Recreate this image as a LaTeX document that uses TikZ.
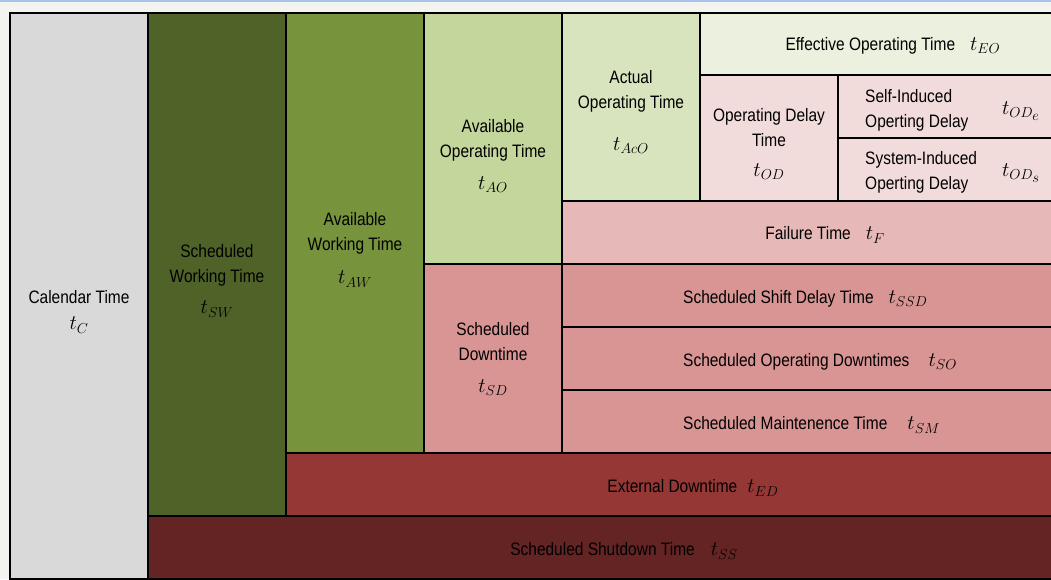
\documentclass[tikz,border=0pt]{standalone}
\usepackage{fontspec}
\setmainfont[FakeStretch=0.86]{Liberation Sans}

\definecolor{pagebg}{HTML}{F3F3EF}
\definecolor{topline}{HTML}{A9C4EB}
\definecolor{calgray}{HTML}{D9D9D9}
\definecolor{swgreen}{HTML}{4F6228}
\definecolor{awgreen}{HTML}{77933C}
\definecolor{aogreen}{HTML}{C3D69B}
\definecolor{acogreen}{HTML}{D7E4BD}
\definecolor{eogreen}{HTML}{EBF1DE}
\definecolor{odpink}{HTML}{F2DCDB}
\definecolor{fpink}{HTML}{E6B9B8}
\definecolor{sdpink}{HTML}{D99594}
\definecolor{edred}{HTML}{953735}
\definecolor{ssred}{HTML}{632423}

\tikzset{
  box/.style={draw=black, line width=2.2pt},
  lbl/.style={align=center, font=\fontsize{18}{25}\selectfont, text=black, inner sep=0pt},
}
\newcommand{\tsym}[1]{{\fontsize{22}{25}\selectfont$t_{#1}$}}

\begin{document}
\begin{tikzpicture}[x=1pt,y=-1pt]
        \useasboundingbox (0,0) rectangle (1051,579);
        \fill[pagebg] (0,0) rectangle (1051,579);
        \fill[topline] (0,0) rectangle (1051,2);

        \begin{scope}
        \clip (0,2) rectangle (1051,579);
        % columns on the left
        \draw[box,fill=calgray] (10,13) rectangle (148,579);
        \draw[box,fill=swgreen] (148,13) rectangle (286,516);
        \draw[box,fill=ssred] (148,516) rectangle (1070,579);
        \draw[box,fill=awgreen] (286,13) rectangle (424,453);
        \draw[box,fill=edred] (286,453) rectangle (1070,516);
        \draw[box,fill=aogreen] (424,13) rectangle (562,264);
        \draw[box,fill=sdpink] (424,264) rectangle (562,453);
        \draw[box,fill=acogreen] (562,13) rectangle (700,201);
        % rows on the right
        \draw[box,fill=fpink] (562,201) rectangle (1070,264);
        \draw[box,fill=sdpink] (562,264) rectangle (1070,327);
        \draw[box,fill=sdpink] (562,327) rectangle (1070,390);
        \draw[box,fill=sdpink] (562,390) rectangle (1070,453);
        \draw[box,fill=eogreen] (700,13) rectangle (1070,75);
        \draw[box,fill=odpink] (700,75) rectangle (838,201);
        \draw[box,fill=odpink] (838,75) rectangle (1070,138);
        \draw[box,fill=odpink] (838,138) rectangle (1070,201);
        \end{scope}

        % labels
        \node[lbl] (cal) at (79,312) {Calendar Time\\[1pt]\tsym{C}};
        \node[lbl] (sw) at (217,281) {Scheduled\\Working Time\\[6pt]\tsym{SW}};
        \node[lbl] (aw) at (355,250) {Available\\Working Time\\[8pt]\tsym{AW}};
        \node[lbl] (ao) at (493,156) {Available\\Operating Time\\[7pt]\tsym{AO}};
        \node[lbl] (aco) at (631,112) {Actual\\Operating Time\\[17pt]\tsym{AcO}};
        \node[lbl] (od) at (769,144) {Operating Delay\\Time\\[5pt]\tsym{OD}};
        \node[lbl] (sd) at (493,359) {Scheduled\\Downtime\\[7pt]\tsym{SD}};

        \node[lbl,align=left,anchor=west] (odself) at (865,110) {Self-Induced\\Operting Delay};
        \node[lbl] (tode) at (1021,111) {\tsym{OD_{\scriptstyle e}}};
        \node[lbl,align=left,anchor=west] (odsys) at (865,172) {System-Induced\\Operting Delay};
        \node[lbl] (tods) at (1021,173) {\tsym{OD_{\scriptstyle s}}};

        \node[lbl] (eo) at (893,46) {Effective Operating Time\hspace{15pt}\tsym{EO}};
        \node[lbl] (fail) at (825,235) {Failure Time\hspace{15pt}\tsym{F}};
        \node[lbl,anchor=west] (ssd) at (683,299) {Scheduled Shift Delay Time\hspace{15pt}\tsym{SSD}};
        \node[lbl,anchor=west] (so) at (683,362) {Scheduled Operating Downtimes\hspace{19pt}\tsym{SO}};
        \node[lbl,anchor=west] (sm) at (683,425) {Scheduled Maintenence Time\hspace{20pt}\tsym{SM}};
        \node[lbl] (ed) at (693,488) {External Downtime\hspace{10pt}\tsym{ED}};
        \node[lbl] (ss) at (624,551) {Scheduled Shutdown Time\hspace{16pt}\tsym{SS}};
    \end{tikzpicture}
\end{document}
